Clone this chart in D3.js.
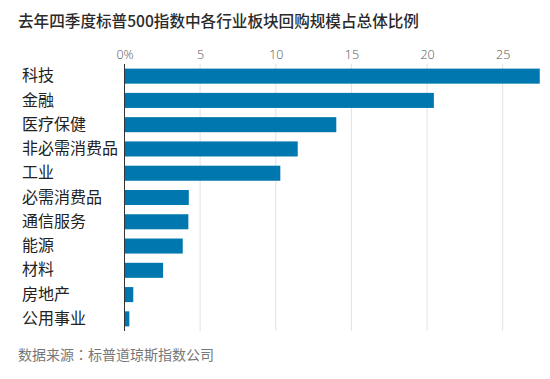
<!DOCTYPE html>
<html><head><meta charset="utf-8">
<script src="https://cdn.jsdelivr.net/npm/d3@7"></script>
<style>
html,body{margin:0;padding:0;background:#fff;}
svg{display:block;}
</style></head>
<body>
<svg id="chart" width="550" height="379"></svg>
<script>
const categories = ["科技","金融","医疗保健","非必需消费品","工业","必需消费品","通信服务","能源","材料","房地产","公用事业"];
const values = [27.45, 20.45, 14.0, 11.45, 10.3, 4.25, 4.22, 3.85, 2.55, 0.58, 0.32];
const tickValues = [0, 5, 10, 15, 20, 25];
const tickLabels = ["0%", "5", "10", "15", "20", "25"];
const titleText = "去年四季度标普500指数中各行业板块回购规模占总体比例";
const sourceLabel = "数据来源";
const sourceColon = "：";
const sourceName = "标普道琼斯指数公司";

const svg = d3.select("#chart");
const font = "'Noto Sans CJK SC','Noto Sans',sans-serif";

const x = d3.scaleLinear().domain([0, 25]).range([124.5, 502.7]);
const y = d3.scaleBand().domain(categories).range([64, 331]).paddingInner(0.38).paddingOuter(0.19);

svg.append("text").attr("x", 18).attr("y", 26.5)
  .attr("font-family", font).attr("font-size", 15.6).attr("font-weight", 500).attr("fill", "#2a2a2a")
  .text(titleText);

// gridlines
svg.append("g").selectAll("line").data(tickValues.slice(1)).join("line")
  .attr("x1", d => x(d)).attr("x2", d => x(d))
  .attr("y1", 64).attr("y2", 331)
  .attr("stroke", "#e2e2e2").attr("stroke-width", 1);

// top axis labels
const xAxis = d3.axisTop(x).tickValues(tickValues).tickSize(0).tickPadding(0)
  .tickFormat((d, i) => tickLabels[i]);
const gx = svg.append("g").attr("transform", "translate(0,58.5)").call(xAxis);
gx.select(".domain").remove();
gx.selectAll("text").attr("font-family", "'Open Sans','Noto Sans',sans-serif")
  .attr("font-size", 12.5).attr("font-weight", 300).attr("fill", "#555");

// bars
svg.append("g").selectAll("rect").data(values).join("rect")
  .attr("x", x(0)).attr("y", (d, i) => y(categories[i]))
  .attr("width", d => x(d) - x(0)).attr("height", y.bandwidth())
  .attr("fill", "#0077ae");

// y axis line
svg.append("line").attr("x1", x(0)).attr("x2", x(0)).attr("y1", 64).attr("y2", 331)
  .attr("stroke", "#333").attr("stroke-width", 1);

// category labels
const yAxis = d3.axisLeft(y).tickSize(0).tickPadding(0);
const gy = svg.append("g").attr("transform", "translate(22,0)").call(yAxis);
gy.select(".domain").remove();
gy.selectAll("text").attr("text-anchor", "start").attr("font-family", font)
  .attr("font-size", 16).attr("fill", "#222");

const src = svg.append("text").attr("x", 18).attr("y", 360)
  .attr("font-family", font).attr("font-size", 14).attr("fill", "#777");
src.append("tspan").text(sourceLabel);
src.append("tspan").attr("font-family", "'Noto Sans CJK JP','Noto Sans CJK SC',sans-serif").text(sourceColon);
src.append("tspan").text(sourceName);
</script>
</body></html>
